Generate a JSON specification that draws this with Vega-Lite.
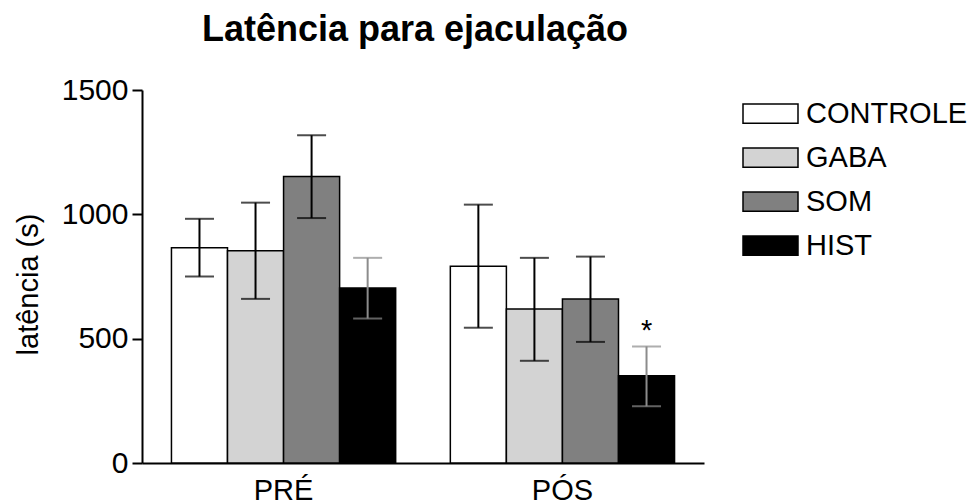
{
  "$schema": "https://vega.github.io/schema/vega-lite/v6.json",
  "width": 562,
  "height": 373,
  "autosize": "none",
  "padding": {"left": 142, "top": 90, "right": 266, "bottom": 41},
  "background": "white",
  "title": {
    "text": "Latência para ejaculação",
    "fontSize": 36,
    "fontWeight": "bold",
    "font": "Liberation Sans",
    "color": "black",
    "anchor": "middle",
    "frame": "group",
    "dx": -8,
    "offset": 26
  },
  "data": {
    "values": [
      {"period": "PRÉ", "group": "CONTROLE", "mean": 866, "lo": 750, "hi": 982, "sig": ""},
      {"period": "PRÉ", "group": "GABA", "mean": 854, "lo": 660, "hi": 1047, "sig": ""},
      {"period": "PRÉ", "group": "SOM", "mean": 1152, "lo": 985, "hi": 1318, "sig": ""},
      {"period": "PRÉ", "group": "HIST", "mean": 704, "lo": 581, "hi": 825, "sig": ""},
      {"period": "PÓS", "group": "CONTROLE", "mean": 791, "lo": 544, "hi": 1039, "sig": ""},
      {"period": "PÓS", "group": "GABA", "mean": 619, "lo": 411, "hi": 825, "sig": ""},
      {"period": "PÓS", "group": "SOM", "mean": 660, "lo": 487, "hi": 830, "sig": ""},
      {"period": "PÓS", "group": "HIST", "mean": 351, "lo": 228, "hi": 469, "sig": "*"}
    ]
  },
  "encoding": {
    "x": {
      "field": "period",
      "type": "nominal",
      "sort": ["PRÉ", "PÓS"],
      "scale": {"paddingInner": 0.196, "paddingOuter": 0.1056},
      "axis": {
        "title": null,
        "ticks": false,
        "labelAngle": 0,
        "labelFontSize": 29,
        "labelFont": "Liberation Sans",
        "labelColor": "black",
        "labelPadding": 13,
        "domainColor": "black",
        "domainWidth": 2
      }
    },
    "xOffset": {
      "field": "group",
      "type": "nominal",
      "sort": ["CONTROLE", "GABA", "SOM", "HIST"],
      "scale": {"paddingInner": 0, "paddingOuter": 0}
    }
  },
  "layer": [
    {
      "mark": {"type": "bar", "stroke": "black", "strokeWidth": 1.5},
      "encoding": {
        "y": {
          "field": "mean",
          "type": "quantitative",
          "scale": {"domain": [0, 1500], "nice": false},
          "axis": {
            "values": [0, 500, 1000, 1500],
            "format": "d",
            "grid": false,
            "labelFontSize": 30,
            "labelFont": "Liberation Sans",
            "labelColor": "black",
            "labelPadding": 4,
            "tickSize": 10,
            "tickWidth": 2,
            "tickColor": "black",
            "domainColor": "black",
            "domainWidth": 2,
            "title": "latência (s)",
            "titleFontSize": 29,
            "titleFont": "Liberation Sans",
            "titleFontWeight": "normal",
            "titleColor": "black",
            "titleAngle": -90,
            "titleAlign": "center",
            "titleBaseline": "alphabetic",
            "titleX": -105,
            "titleY": 194
          }
        },
        "fill": {
          "field": "group",
          "type": "nominal",
          "sort": ["CONTROLE", "GABA", "SOM", "HIST"],
          "scale": {
            "domain": ["CONTROLE", "GABA", "SOM", "HIST"],
            "range": ["#ffffff", "#d3d3d3", "#808080", "#000000"]
          },
          "legend": {
            "title": null,
            "orient": "none",
            "legendX": 600,
            "legendY": -5,
            "padding": 0,
            "symbolType": "M-1,-0.35H1V0.35H-1Z",
            "symbolSize": 3025,
            "symbolStrokeColor": "black",
            "symbolStrokeWidth": 1.5,
            "labelFontSize": 29,
            "labelFont": "Liberation Sans",
            "labelColor": "black",
            "labelOffset": 7,
            "labelLimit": 300,
            "rowPadding": 0
          }
        }
      }
    },
    {
      "mark": {"type": "rule", "strokeWidth": 2},
      "encoding": {
        "y": {"field": "lo", "type": "quantitative"},
        "y2": {"field": "hi"},
        "stroke": {"condition": {"test": "datum.group === 'HIST'", "value": "#8c8c8c"}, "value": "black"}
      }
    },
    {
      "mark": {"type": "tick", "size": 29, "thickness": 2, "orient": "horizontal"},
      "encoding": {
        "y": {"field": "lo", "type": "quantitative"},
        "color": {"condition": {"test": "datum.group === 'HIST'", "value": "#8c8c8c"}, "value": "black"}
      }
    },
    {
      "mark": {"type": "tick", "size": 29, "thickness": 2, "orient": "horizontal"},
      "encoding": {
        "y": {"field": "hi", "type": "quantitative"},
        "color": {"condition": {"test": "datum.group === 'HIST'", "value": "#8c8c8c"}, "value": "black"}
      }
    },
    {
      "mark": {"type": "text", "fontSize": 29, "font": "Liberation Sans", "baseline": "alphabetic", "dy": -6, "color": "black"},
      "encoding": {
        "y": {"field": "hi", "type": "quantitative"},
        "text": {"field": "sig"}
      }
    }
  ],
  "config": {
    "view": {"stroke": null},
    "font": "Liberation Sans"
  }
}
